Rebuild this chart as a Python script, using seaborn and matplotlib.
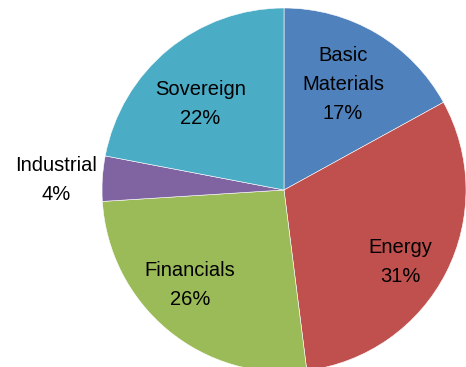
import numpy as np
import matplotlib
matplotlib.use("Agg")
import matplotlib.pyplot as plt
import seaborn as sns

categories = ["Basic\nMaterials", "Energy", "Financials", "Industrial", "Sovereign"]
values = [17, 31, 26, 4, 22]
colors = ["#4F81BD", "#C0504D", "#9BBB59", "#8064A2", "#4BACC6"]
# label placement: radial distance (fraction of radius) and angular offset (deg)
label_dist = [0.664, 0.75, 0.734, 1.254, 0.66]
label_shift = [1.4, -4.8, -5.1, 1.1, 4.7]

sns.set_theme(style="white")
plt.rcParams["font.family"] = ["Liberation Sans", "DejaVu Sans"]

W, H = 466, 367
fig = plt.figure(figsize=(W / 100, H / 100), dpi=100)
ax = fig.add_axes([0, 0, 1, 1])

cx, cy, R = 284, H - 190, 182
wedges, _ = ax.pie(values, colors=sns.color_palette(colors), startangle=90,
                   counterclock=False, center=(cx, cy), radius=R,
                   wedgeprops=dict(edgecolor="white", linewidth=0.4),
                   frame=True)
ax.set_xlim(0, W)
ax.set_ylim(0, H)
ax.axis("off")

for w, cat, v, d, s in zip(wedges, categories, values, label_dist, label_shift):
    mid = np.deg2rad((w.theta1 + w.theta2) / 2 + s)
    x = cx + d * R * np.cos(mid)
    y = cy + d * R * np.sin(mid)
    ax.text(x, y, f"{cat}\n{v}%", ha="center", va="center", fontsize=14.5,
            linespacing=1.65, color="black")

fig.savefig("out.png", dpi=100)
